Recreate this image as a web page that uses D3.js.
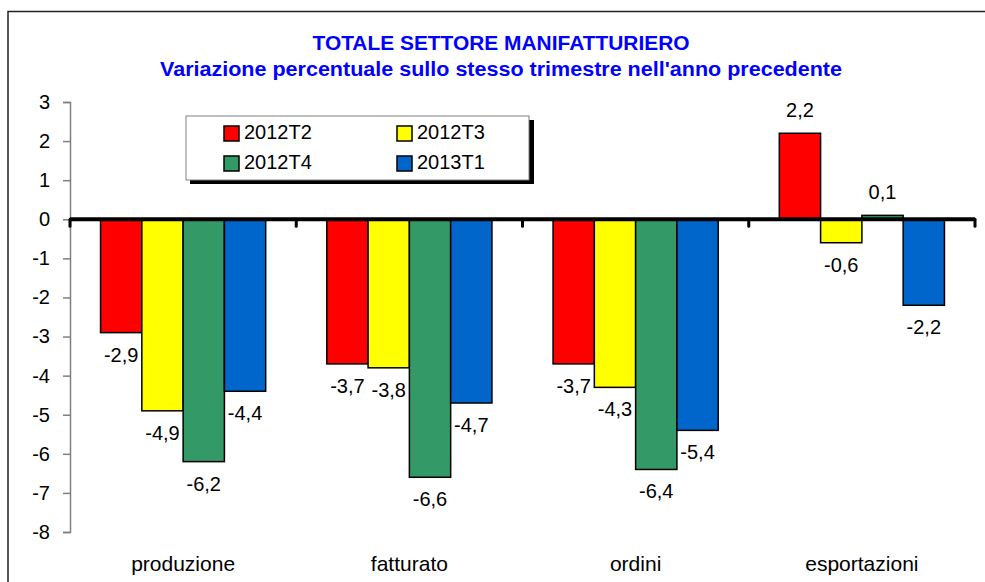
<!DOCTYPE html>
<html>
<head>
<meta charset="utf-8">
<script src="https://cdn.jsdelivr.net/npm/d3@7/dist/d3.min.js"></script>
<style>
  html, body { margin: 0; padding: 0; background: #fff; }
  svg { display: block; font-family: "Liberation Sans", Arial, sans-serif; }
</style>
</head>
<body>
<svg id="chart" width="985" height="582"></svg>
<script>
// Categories, series and axis ticks
const categories = ["produzione", "fatturato", "ordini", "esportazioni"];
const seriesNames = ["2012T2", "2012T3", "2012T4", "2013T1"];
const seriesColors = ["#FF0000", "#FFFF00", "#339966", "#0066CC"];
const values2012T2 = [-2.9, -3.7, -3.7, 2.2];
const values2012T3 = [-4.9, -3.8, -4.3, -0.6];
const values2012T4 = [-6.2, -6.6, -6.4, 0.1];
const values2013T1 = [-4.4, -4.7, -5.4, -2.2];
const yTicks = [3, 2, 1, 0, -1, -2, -3, -4, -5, -6, -7, -8];
const titleLine1 = "TOTALE SETTORE MANIFATTURIERO";
const titleLine2 = "Variazione percentuale sullo stesso trimestre nell'anno precedente";

const seriesValues = [values2012T2, values2012T3, values2012T4, values2013T1];
const rows = [];
categories.forEach((c, ci) => {
  seriesNames.forEach((s, si) => rows.push({ cat: c, series: s, si, value: seriesValues[si][ci] }));
});

const itLocale = d3.formatLocale({ decimal: ",", thousands: ".", grouping: [3], currency: ["€", ""], minus: "-" });
const fmtLabel = itLocale.format(".1f");
const fmtTick = itLocale.format("d");

const svg = d3.select("#chart");

// outer frame
svg.append("rect")
  .attr("x", 8).attr("y", 11.5).attr("width", 1000).attr("height", 600)
  .attr("fill", "none").attr("stroke", "#222").attr("stroke-width", 1.5);

// titles
svg.append("text")
  .attr("x", 501).attr("y", 50)
  .attr("text-anchor", "middle")
  .attr("font-size", 20).attr("font-weight", "bold").attr("fill", "#0000FF")
  .attr("textLength", 377).attr("lengthAdjust", "spacingAndGlyphs")
  .text(titleLine1);
svg.append("text")
  .attr("x", 501).attr("y", 76)
  .attr("text-anchor", "middle")
  .attr("font-size", 20).attr("font-weight", "bold").attr("fill", "#0000FF")
  .attr("textLength", 682).attr("lengthAdjust", "spacingAndGlyphs")
  .text(titleLine2);

// scales
const x0 = d3.scaleBand().domain(categories).range([70, 975]).paddingInner(0).paddingOuter(0);
const x1 = d3.scaleBand().domain(seriesNames).range([0, x0.bandwidth()]).paddingInner(0).paddingOuter(0.74);
const y = d3.scaleLinear().domain([-8, 3]).range([532, 102]);

// y axis
const yAxis = d3.axisLeft(y).tickValues(yTicks).tickSize(7).tickPadding(13).tickFormat(fmtTick);
const gy = svg.append("g").attr("transform", "translate(70,0)").call(yAxis);
gy.select(".domain").attr("stroke", "#808080").attr("stroke-width", 1.5);
gy.selectAll(".tick line").attr("stroke", "#808080").attr("stroke-width", 1.5);
gy.selectAll(".tick text")
  .attr("font-family", "Liberation Sans, Arial, sans-serif")
  .attr("font-size", 20).attr("fill", "#000");

// bars
svg.append("g").selectAll("rect")
  .data(rows)
  .join("rect")
  .attr("x", d => x0(d.cat) + x1(d.series))
  .attr("width", x1.bandwidth())
  .attr("y", d => y(Math.max(0, d.value)))
  .attr("height", d => Math.abs(y(d.value) - y(0)))
  .attr("fill", d => seriesColors[d.si])
  .attr("stroke", "#000").attr("stroke-width", 1.5);

// zero line and category separators
const zeroY = y(0);
svg.append("line")
  .attr("x1", 70).attr("x2", 975)
  .attr("y1", zeroY).attr("y2", zeroY)
  .attr("stroke", "#000").attr("stroke-width", 4);
const sepPositions = categories.map(c => x0(c)).concat([x0.range()[1]]);
svg.append("g").selectAll("line")
  .data(sepPositions)
  .join("line")
  .attr("x1", d => d).attr("x2", d => d)
  .attr("y1", zeroY).attr("y2", zeroY + 7)
  .attr("stroke", "#000").attr("stroke-width", 3).attr("stroke-linecap", "round");

// value labels
svg.append("g").selectAll("text")
  .data(rows)
  .join("text")
  .attr("x", d => x0(d.cat) + x1(d.series) + x1.bandwidth() / 2)
  .attr("y", d => d.value >= 0 ? y(d.value) - 16 : y(d.value) + 29)
  .attr("text-anchor", "middle")
  .attr("font-size", 20).attr("fill", "#000")
  .text(d => fmtLabel(d.value));

// category labels
svg.append("g").selectAll("text")
  .data(categories)
  .join("text")
  .attr("x", d => x0(d) + x0.bandwidth() / 2)
  .attr("y", 571)
  .attr("text-anchor", "middle")
  .attr("font-size", 21).attr("fill", "#000")
  .text(d => d);

// legend
const legend = svg.append("g");
legend.append("rect")
  .attr("x", 190).attr("y", 120).attr("width", 344).attr("height", 64)
  .attr("fill", "#000");
legend.append("rect")
  .attr("x", 186).attr("y", 116).attr("width", 343).attr("height", 64)
  .attr("fill", "#fff").attr("stroke", "#808080").attr("stroke-width", 1);
const legendItems = legend.selectAll("g.item")
  .data(seriesNames)
  .join("g")
  .attr("class", "item")
  .attr("transform", (d, i) => `translate(${i % 2 === 0 ? 224 : 397},${i < 2 ? 126 : 156})`);
legendItems.append("rect")
  .attr("width", 15).attr("height", 15)
  .attr("fill", (d, i) => seriesColors[i])
  .attr("stroke", "#000").attr("stroke-width", 1.5);
legendItems.append("text")
  .attr("x", 20).attr("y", 13)
  .attr("font-size", 20).attr("fill", "#000")
  .text(d => d);
</script>
</body>
</html>
